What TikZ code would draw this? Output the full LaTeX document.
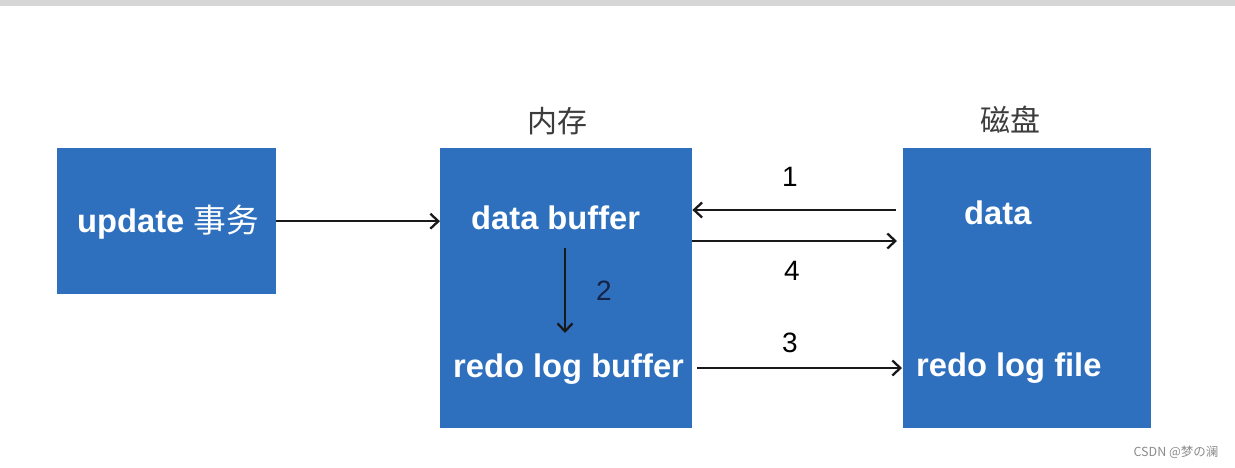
\documentclass[tikz,border=0pt]{standalone}
\usepackage{fontspec}
\setmainfont{Liberation Sans}
\newfontfamily\cjk{Noto Sans CJK SC}
\usetikzlibrary{arrows.meta}
\definecolor{boxblue}{RGB}{46,112,190}
\definecolor{topbar}{RGB}{214,214,214}
\definecolor{capgray}{RGB}{60,60,60}
\tikzset{
  box/.style={draw=none,fill=boxblue,inner sep=0,anchor=north west},
  intext/.style={text=white,font=\fontsize{32.7}{36}\selectfont\bfseries,inner sep=0,anchor=base west},
  num/.style={text=black,font=\fontsize{28}{32}\selectfont,inner sep=0,anchor=base},
  captext/.style={text=capgray,font=\cjk\fontsize{30}{34}\selectfont,inner sep=0},
  arr/.style={draw=black!90,line width=2.3pt,-{Straight Barb[length=8pt,width=15pt,line width=2.3pt]}}
}
\begin{document}
\begin{tikzpicture}[x=1pt,y=-1pt]
\useasboundingbox[fill=white] (0,0) rectangle (1235,467);
\fill[topbar] (0,0) rectangle (1235,6);
% boxes
\node[box,minimum width=219pt,minimum height=146pt] (upd) at (57,148) {};
\node[box,minimum width=252pt,minimum height=280pt] (mem) at (440,148) {};
\node[box,minimum width=248pt,minimum height=280pt] (disk) at (903,148) {};
% captions
\node[captext] (memcap) at (557,121) {内存};
\node[captext] (diskcap) at (1010,120) {磁盘};
% box texts
\node[intext] (updt) at (77,232) {update {\cjk\mdseries 事务}};
\node[intext] (dbuf) at (471,229) {data buffer};
\node[intext] (rbuf) at (453,377) {redo log buffer};
\node[intext] (dat) at (964,224) {data};
\node[intext] (rfile) at (916,376) {redo log file};
% arrows
\draw[arr] (upd.east) -- (upd.east -| mem.west);
\draw[arr] ([shift={(-7,62)}]disk.north west) -- ([shift={(0,62)}]mem.north east);
\draw[arr] ([shift={(0,93)}]mem.north east) -- ([shift={(-6,93)}]disk.north west);
\draw[arr] ([shift={(5,220)}]mem.north east) -- ([shift={(-1,220)}]disk.north west);
\draw[arr] ([shift={(125,100)}]mem.north west) -- ([shift={(125,185)}]mem.north west);
% numbers
\node[num] (n1) at (790,186) {1};
\node[num] (n4) at (792,280) {4};
\node[num] (n3) at (790,352) {3};
\node[num,text={rgb,255:red,20;green,35;blue,70}] (n2) at (604,300) {2};
% watermark
\node[text=black!45,font=\cjk\fontsize{12.5}{14}\selectfont,inner sep=0] (wm) at (1176,452) {CSDN @梦の澜};
\end{tikzpicture}
\end{document}
